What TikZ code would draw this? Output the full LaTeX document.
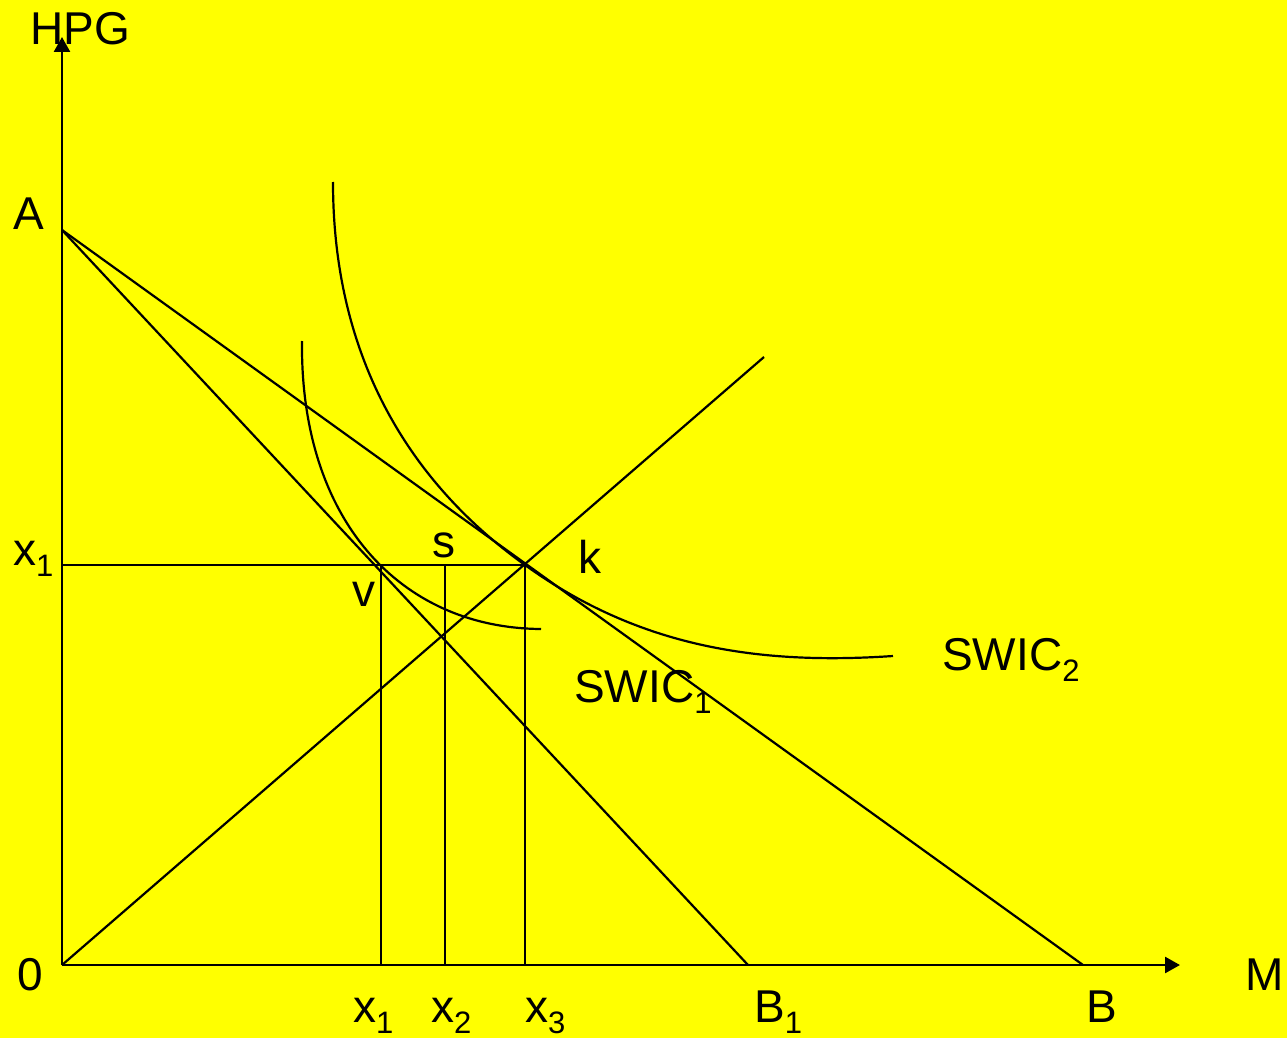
\documentclass[tikz,border=0pt]{standalone}
\usepackage{fontspec}
\setmainfont{Liberation Sans}
\usetikzlibrary{arrows.meta}
\definecolor{bgyellow}{RGB}{255,255,0}
\newcommand\lowsub[1]{\raisebox{-11pt}{\fontsize{31}{31}\selectfont #1}}
\tikzset{
  ln/.style={line width=2.2pt, black},
  crv/.style={line width=2.2pt, black},
  axis/.style={line width=2.6pt, black, -{Triangle[length=15pt,width=16pt]}},
  lbl/.style={anchor=base west, inner sep=0pt, font=\fontsize{46}{46}\selectfont}
}
\begin{document}
\begin{tikzpicture}[x=1pt,y=-1pt]
\fill[bgyellow] (0,0) rectangle (1287,1038);
\useasboundingbox (0,0) rectangle (1287,1038);
% points
\coordinate (O) at (62,965);
\coordinate (Ytop) at (62,37);
\coordinate (Xend) at (1180,965);
\coordinate (A) at (62,230);
\coordinate (B) at (1083,965);
\coordinate (B1) at (748,965);
\coordinate (K) at (525,565);
\coordinate (Ray) at (764,357);
\coordinate (V) at (381,565);
\coordinate (S) at (445,565);
\coordinate (Lx1) at (62,565);
\coordinate (Vb) at (381,965);
\coordinate (Sb) at (445,965);
\coordinate (Kb) at (525,965);
% axes
\draw[axis] (O) -- (Ytop);
\draw[axis] (O) -- (Xend);
% lines
\draw[ln] (A) -- (B);
\draw[ln] (A) -- (B1);
\draw[ln] (O) -- (Ray);
\draw[ln] (Lx1) -- (K);
\draw[ln] (V) -- (Vb);
\draw[ln] (S) -- (Sb);
\draw[ln] (K) -- (Kb);
% indifference curves
\draw[crv] (302,341) .. controls (300,520) and (400,628) .. (541,629);
\draw[crv] (333,182) .. controls (333,380) and (430,497) .. (K)
           .. controls (640,648) and (760,665) .. (893,656);
% labels
\node[lbl] (hpg) at (30,45) {HPG};
\node[lbl] (la) at (13,229) {A};
\node[lbl] (lx1) at (13,565) {x\lowsub{1}};
\node[lbl] (l0) at (17,990) {0};
\node[lbl] (lm) at (1245,990) {M};
\node[lbl] (lb) at (1086,1022) {B};
\node[lbl] (lb1) at (754,1022) {B\lowsub{1}};
\node[lbl] (bx1) at (353,1022) {x\lowsub{1}};
\node[lbl] (bx2) at (431,1022) {x\lowsub{2}};
\node[lbl] (bx3) at (525,1022) {x\lowsub{3}};
\node[lbl] (lv) at (352,606) {v};
\node[lbl] (ls) at (432,557) {s};
\node[lbl] (lk) at (578,573) {k};
\node[lbl] (sw1) at (574,702) {SWIC\lowsub{1}};
\node[lbl] (sw2) at (942,670) {SWIC\lowsub{2}};
\end{tikzpicture}
\end{document}
